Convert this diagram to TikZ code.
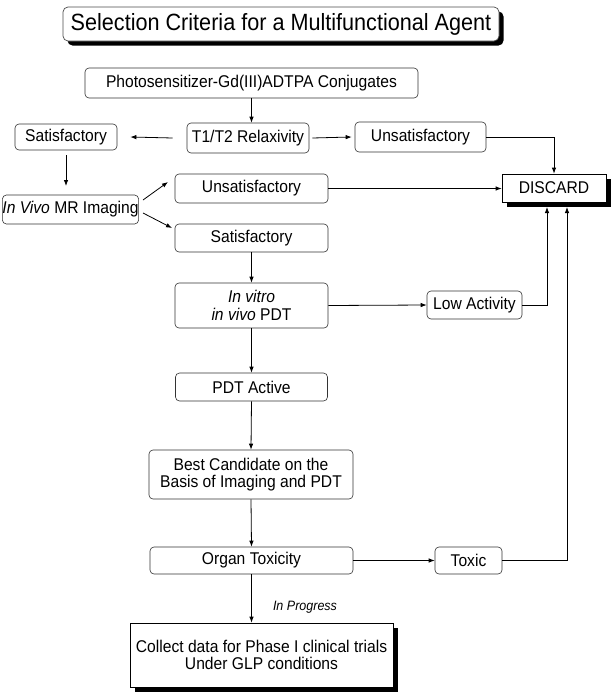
\documentclass[tikz,border=0pt]{standalone}
\usepackage{fontspec}
\setmainfont[FakeStretch=0.92]{Liberation Sans}
\usetikzlibrary{arrows.meta,shadows}
\newcommand{\boxfont}{\fontsize{17}{17.5}\selectfont}
\newcommand{\titlefont}{\fontsize{23.5}{26}\selectfont}
\newcommand{\notefont}{\fontsize{13.6}{15}\selectfont\itshape}
\tikzset{
  flowbox/.style={draw=black!80, line width=0.6pt, rounded corners=4pt, align=center,
    font=\boxfont, inner sep=0pt, fill=white},
  shadowbox/.style={draw=black, line width=0.7pt, align=center, font=\boxfont, inner sep=0pt,
    fill=white, drop shadow={shadow xshift=4.5pt, shadow yshift=-4.5pt, fill=black, opacity=1}},
  conn/.style={line width=0.8pt, -{Latex[length=6pt,width=4.5pt]}},
  plainline/.style={line width=0.8pt}
}
\begin{document}
\begin{tikzpicture}[x=1pt,y=-1pt]
\useasboundingbox (0,0) rectangle (615,696);
% title
\node[shadowbox, rounded corners=5pt, draw=black!70, font=\titlefont, minimum width=436pt, minimum height=34pt] (title) at (281,24) {Selection Criteria for a Multifunctional Agent};
% boxes
\node[flowbox, minimum width=333pt, minimum height=30pt] (photo) at (251.5,83) {Photosensitizer-Gd(III)ADTPA Conjugates};
\node[flowbox, minimum width=122pt, minimum height=30pt] (t12) at (248,138) {T1/T2 Relaxivity};
\node[flowbox, minimum width=102pt, minimum height=26pt] (sat1) at (66,137) {Satisfactory};
\node[flowbox, minimum width=131pt, minimum height=30pt] (unsat1) at (420.5,137) {Unsatisfactory};
\node[shadowbox, minimum width=104pt, minimum height=28pt] (discard) at (554,188) {DISCARD};
\node[flowbox, minimum width=133pt, minimum height=29pt] (invivo) at (70.5,209.5) {\textit{In Vivo} MR Imaging};
\node[flowbox, minimum width=153pt, minimum height=29pt] (unsat2) at (251.5,188.5) {Unsatisfactory};
\node[flowbox, minimum width=153pt, minimum height=28pt] (sat2) at (251.5,238) {Satisfactory};
\node[flowbox, minimum width=153pt, minimum height=45pt] (invitro) at (251.5,305.5) {\textit{In vitro}\\\textit{in vivo} PDT};
\node[flowbox, minimum width=95pt, minimum height=28pt] (lowact) at (474.5,305) {Low Activity};
\node[flowbox, minimum width=152pt, minimum height=28pt] (pdtact) at (251.5,387) {PDT Active};
\node[flowbox, minimum width=204pt, minimum height=49pt] (best) at (251,474.5) {Best Candidate on the\\Basis of Imaging and PDT};
\node[flowbox, minimum width=203pt, minimum height=27pt] (organ) at (251.5,560.5) {Organ Toxicity};
\node[flowbox, minimum width=67pt, minimum height=27pt] (toxic) at (468.5,560.5) {Toxic};
\node[shadowbox, minimum width=263pt, minimum height=64pt] (collect) at (261.5,655) {Collect data for Phase I clinical trials\\Under GLP conditions};
\node[font=\notefont, inner sep=0pt] (prog) at (305,607) {In Progress};
% connector end points
\coordinate (ivA) at (143,200);
\coordinate (ivB) at (168,182);
\coordinate (ivC) at (143,213);
\coordinate (ivD) at (172,228);
\coordinate (dlow) at (547,207);
\coordinate (dtox) at (567,207);
\coordinate (satTop) at (66,155);
\coordinate (satBot) at (66,186);
% connectors
\draw[conn] (photo.south) -- (photo.south |- t12.north);
\draw[conn] ([xshift=-14pt]t12.west) -- ([xshift=13pt]sat1.east);
\draw[conn] ([xshift=3pt]t12.east) -- ([xshift=-3pt]unsat1.west);
\draw[conn] (unsat1.east) -| (discard.north);
\draw[conn] (satTop) -- (satBot);
\draw[conn] (ivA) -- (ivB);
\draw[conn] (ivC) -- (ivD);
\draw[conn] (unsat2.east) -- (unsat2.east -| discard.west);
\draw[conn] (sat2.south) -- (invitro.north);
\draw[conn] (invitro.east) -- (lowact.west);
\draw[conn] (lowact.east) -| (dlow);
\draw[conn] (invitro.south) -- (pdtact.north);
\draw[conn] (pdtact.south) -- (best.north);
\draw[conn] (best.south) -- (organ.north);
\draw[conn] (organ.east) -- (toxic.west);
\draw[conn] (toxic.east) -| (dtox);
\draw[conn] (organ.south) -- (organ.south |- collect.north);
\end{tikzpicture}
\end{document}
